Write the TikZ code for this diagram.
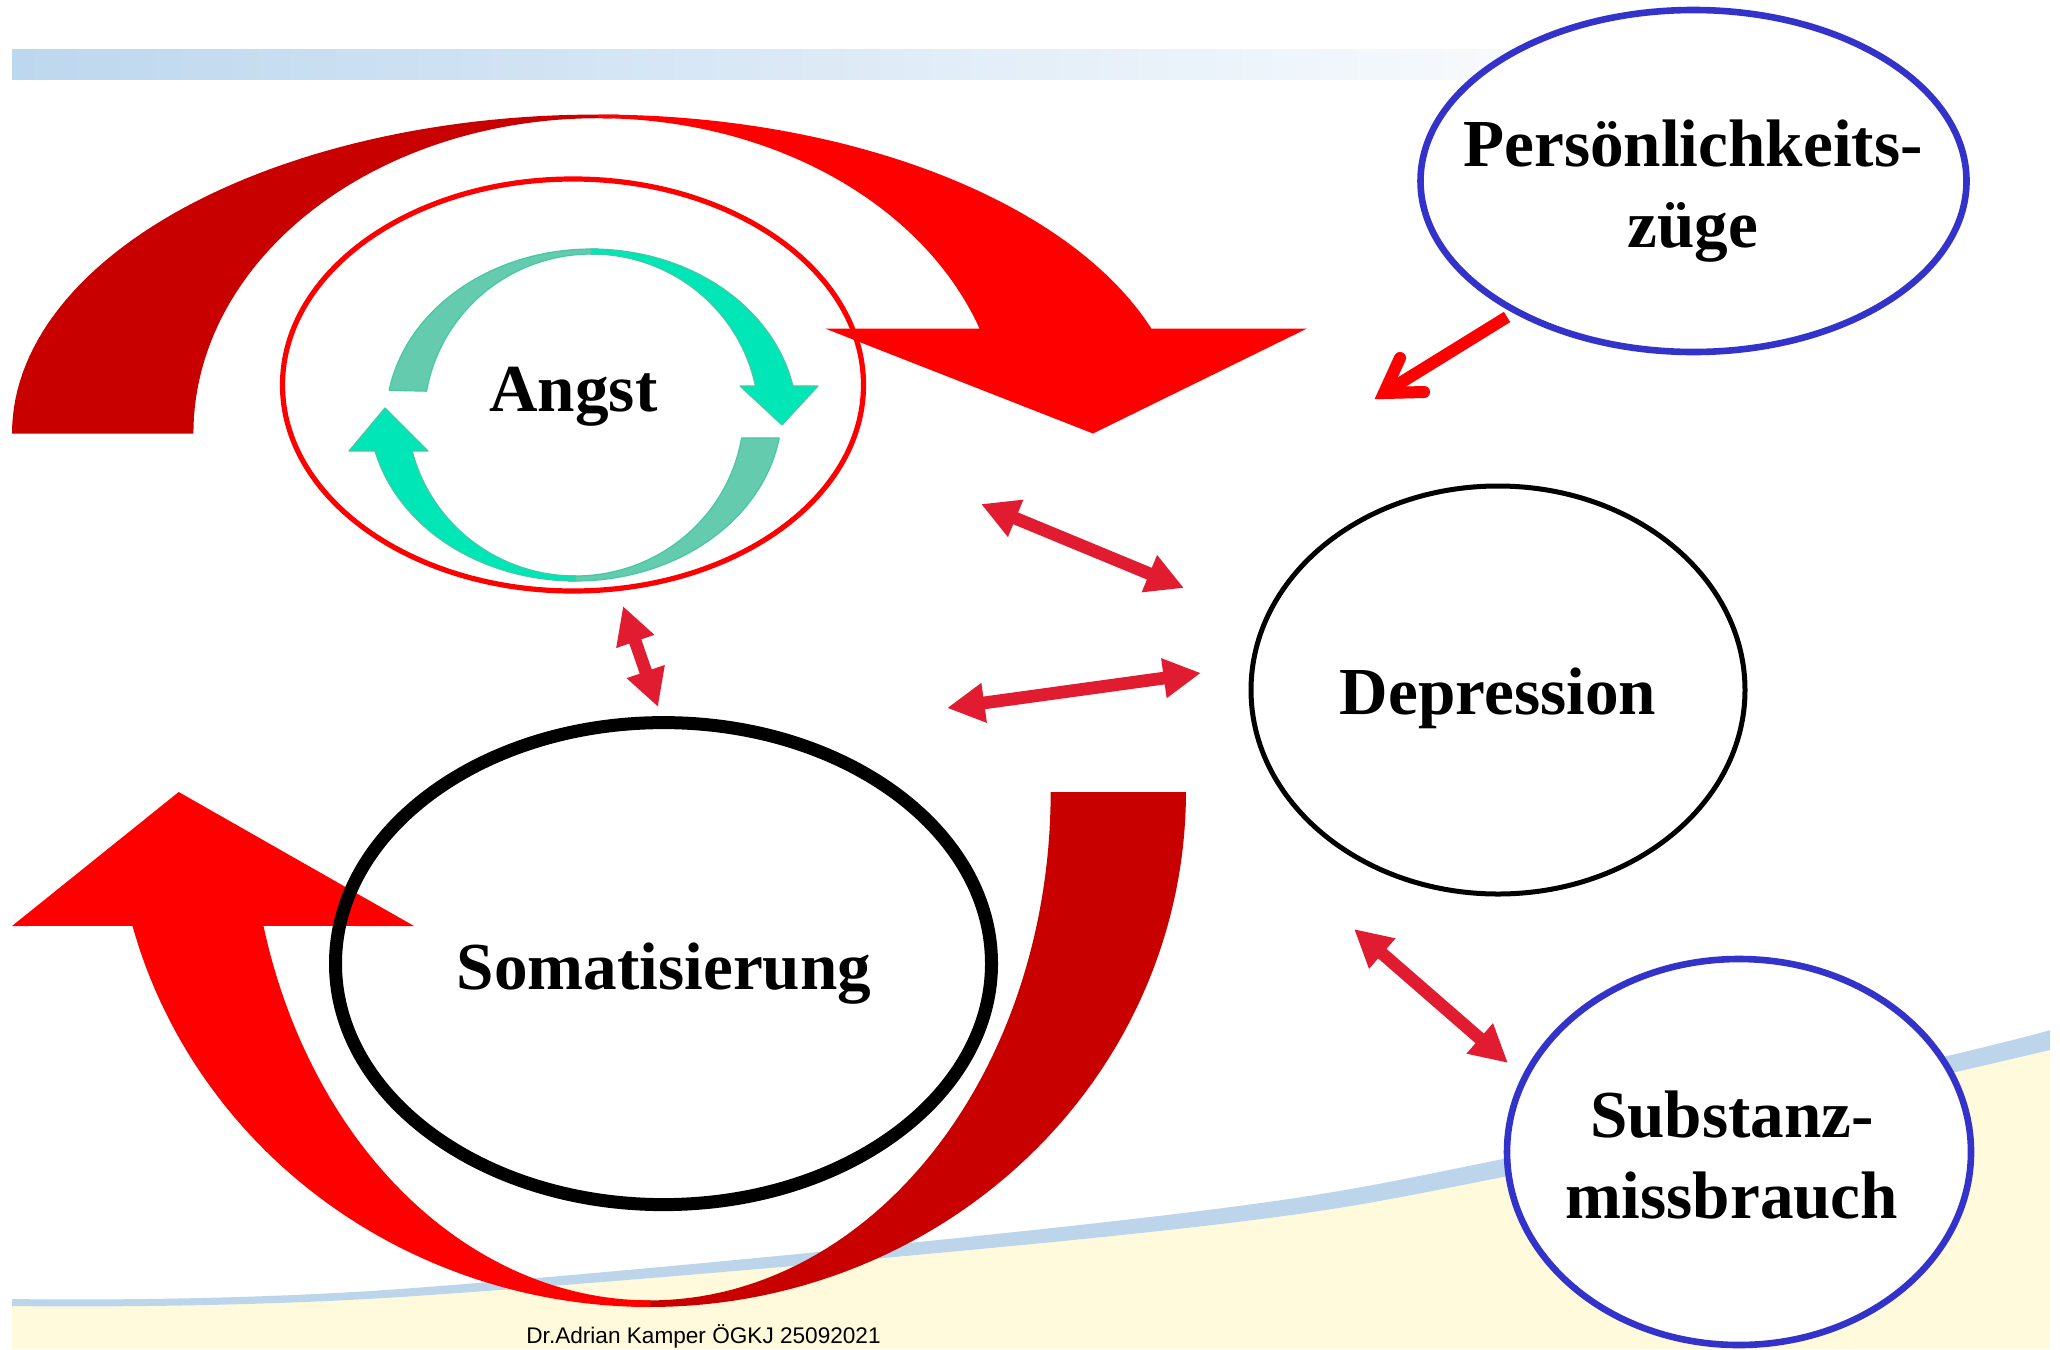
\documentclass[tikz,border=0pt]{standalone}
\usepackage{fontspec}
\setmainfont{Liberation Serif}
\newfontfamily\footfont{Liberation Sans}
\usetikzlibrary{arrows.meta,shapes.geometric}
\definecolor{barblue}{RGB}{189,215,238}
\definecolor{bandblue}{RGB}{189,213,235}
\definecolor{bgyellow}{RGB}{255,250,220}
\definecolor{dred}{RGB}{200,0,0}
\definecolor{bred}{RGB}{255,0,0}
\definecolor{crim}{RGB}{225,27,48}
\definecolor{ovblue}{RGB}{51,51,204}
\definecolor{gmuted}{RGB}{100,203,175}
\definecolor{gbright}{RGB}{0,230,182}
\definecolor{gedge}{RGB}{70,200,165}
\begin{document}
\begin{tikzpicture}[x=0.5pt,y=-0.5pt,
  oval/.style={ellipse, inner sep=0pt, outer sep=0pt},
  lbl/.style={font=\fontsize{33.6}{40.5}\selectfont\bfseries, align=center, anchor=base, inner sep=0pt},
  dbl/.style={draw=crim, line width=6.35pt, arrows={Triangle[length=18.75pt,width=18.75pt]-Triangle[length=18.75pt,width=18.75pt]}},
  gpart/.style={draw=gedge, line width=0.6pt, line join=round}
 ]
% canvas
\fill[white] (0,0) rectangle (2060,1349);
\useasboundingbox (0,0) rectangle (2060,1349);
% top gradient bar
\shade[left color=barblue, right color=white] (12,49) rectangle (1720,79);
% bottom background
\fill[bgyellow] plot[smooth, tension=0.6] coordinates {(12,1306) (400,1297) (1150,1232) (1503,1177) (1943,1075) (2050,1050)}
  -- (2050,1349) -- (12,1349) -- cycle;
\fill[bandblue] plot[smooth, tension=0.6] coordinates {(12,1299) (400,1289) (1150,1217) (1503,1159) (1943,1057) (2050,1030)}
  -- plot[smooth, tension=0.6] coordinates {(2050,1050) (1943,1075) (1503,1177) (1150,1232) (400,1297) (12,1306)} -- cycle;
% footer
\node[font=\footfont\fontsize{11.3}{13}\selectfont, anchor=base west, inner sep=0pt] (foot) at (526,1343) {Dr.Adrian Kamper ÖGKJ 25092021};
% big top arrow
\fill[dred] plot[domain=180:88, samples=60] ({598+586*cos(\x)}, {433.5-319*sin(\x)})
  -- plot[domain=88:180, samples=60] ({598+404.6*cos(\x)}, {433.5-315.3*sin(\x)}) -- cycle;
\fill[bred] plot[domain=90:19.2, samples=60] ({598+586*cos(\x)}, {433.5-319*sin(\x)})
  -- (1307,328.5) -- (1093,433.5) -- (825,328.5)
  -- plot[domain=19.45:90, samples=60] ({598+404.6*cos(\x)}, {433.5-315.3*sin(\x)}) -- cycle;
% big bottom arrow
\fill[dred] plot[domain=0:92, samples=60] ({650+536*cos(\x)}, {792+515*sin(\x)})
  -- plot[domain=92:0, samples=60] ({650+400.7*cos(\x)}, {792+508.4*sin(\x)}) -- cycle;
\fill[bred] plot[domain=90:164.93, samples=60] ({650+536*cos(\x)}, {792+515*sin(\x)})
  -- (12,926) -- (178.7,792) -- (414,926)
  -- plot[domain=164.72:90, samples=60] ({650+400.7*cos(\x)}, {792+508.4*sin(\x)}) -- cycle;
% ellipses
\node[oval, draw=ovblue, fill=white, line width=3.3pt, minimum width=273pt, minimum height=171pt] (pers) at (1693.5,181) {};
\node[oval, draw=bred, line width=2.6pt, minimum width=290.5pt, minimum height=206pt] (angst) at (573,385) {};
\node[oval, draw=black, line width=2.5pt, minimum width=247pt, minimum height=204pt] (dep) at (1498,690) {};
\node[oval, draw=black, line width=6.5pt, minimum width=328pt, minimum height=241pt] (soma) at (663.5,963.6) {};
\node[oval, draw=ovblue, fill=white, line width=3.3pt, minimum width=232pt, minimum height=193pt] (subst) at (1739,1152) {};
% green cycle arrows
\fill[gmuted, gpart] plot[domain=170:88, samples=50] ({591.5+205.5*cos(\x)}, {420-171*sin(\x)})
  -- plot[domain=88:170, samples=50] ({591.5+167.5*cos(\x)}, {420-166*sin(\x)}) -- cycle;
\fill[gbright, gpart] plot[domain=90:11.5, samples=50] ({591.5+205.5*cos(\x)}, {420-171*sin(\x)})
  -- (818,386) -- (782,425) -- (740,386)
  -- plot[domain=11.8:90, samples=50] ({591.5+167.5*cos(\x)}, {420-166*sin(\x)}) -- cycle;
\fill[gmuted, gpart] plot[domain=9.4:92, samples=50] ({575.5+206.5*cos(\x)}, {410+171*sin(\x)})
  -- plot[domain=92:9.7, samples=50] ({575.5+168.5*cos(\x)}, {410+166*sin(\x)}) -- cycle;
\fill[gbright, gpart] plot[domain=90:166.1, samples=50] ({575.5+206.5*cos(\x)}, {410+171*sin(\x)})
  -- (349,451) -- (385,408) -- (428,451)
  -- plot[domain=165.7:90, samples=50] ({575.5+168.5*cos(\x)}, {410+166*sin(\x)}) -- cycle;
% labels (base = baseline of the last line)
\node[lbl] (tpers) at (1693,247) {Persönlichkeits-\\züge};
\node[lbl] (tangst) at (573.4,411.7) {Angst};
\node[lbl] (tdep) at (1498,714) {Depression};
\node[lbl] (tsoma) at (664,989) {Somatisierung};
\node[lbl] (tsubst) at (1732,1218) {Substanz-\\missbrauch};
% arrow end points
\coordinate (a1) at (981,504);   \coordinate (a2) at (1184,588);
\coordinate (b1) at (947,708);   \coordinate (b2) at (1201,673);
\coordinate (c1) at (623,606);   \coordinate (c2) at (658,707);
\coordinate (d1) at (1354,929);  \coordinate (d2) at (1508,1063);
\draw[dbl] (a1) -- (a2);
\draw[dbl] (b1) -- (b2);
\draw[dbl] (c1) -- (c2);
\draw[dbl] (d1) -- (d2);
% arrow from Persoenlichkeitszuege
\coordinate (ptail) at (1507,317);
\coordinate (ptip) at (1384,393);
\coordinate (pbarbA) at (1400,358);
\coordinate (pbarbB) at (1424,392);
\begin{scope}[shift={(4,5)}, opacity=0.15]
\draw[line width=6pt, line cap=butt] (ptail) -- (ptip);
\draw[line width=6pt, line cap=round, line join=miter] (pbarbA) -- (ptip) -- (pbarbB);
\end{scope}
\draw[bred, line width=6pt, line cap=butt] (ptail) -- (ptip);
\draw[bred, line width=6pt, line cap=round, line join=miter] (pbarbA) -- (ptip) -- (pbarbB);
\end{tikzpicture}
\end{document}
